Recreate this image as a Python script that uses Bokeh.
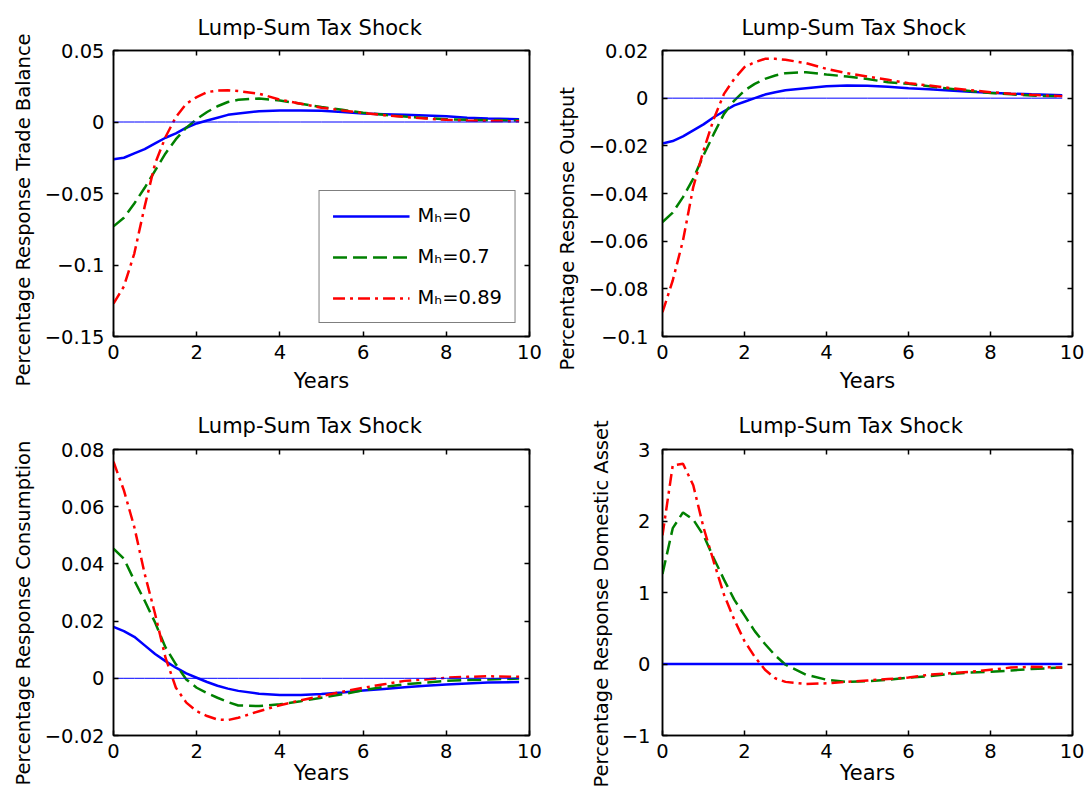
from bokeh.plotting import figure
from bokeh.layouts import gridplot
from bokeh.models import Range1d, FixedTicker, LinearAxis, Legend, LegendItem, Title
from bokeh.embed import file_html
from bokeh.resources import INLINE

# ---------------- data ----------------
years = [0, 0.25, 0.5, 0.75, 1, 1.25, 1.5, 1.75, 2, 2.25, 2.5, 2.75, 3,
         3.5, 4, 4.5, 5, 5.5, 6, 6.5, 7, 7.5, 8, 8.5, 9, 9.75]
zero_ref = [0, 0, 0, 0, 0, 0, 0, 0, 0, 0, 0, 0, 0,
            0, 0, 0, 0, 0, 0, 0, 0, 0, 0, 0, 0, 0]

series_labels = ["M\u2095=0", "M\u2095=0.7", "M\u2095=0.89"]

# Trade balance
tb_m0 = [-0.026, -0.025, -0.022, -0.019, -0.015, -0.011, -0.008, -0.004, -0.001, 0.001, 0.003, 0.005, 0.006,
         0.0075, 0.008, 0.008, 0.0078, 0.007, 0.006, 0.0055, 0.005, 0.0045, 0.004, 0.003, 0.0025, 0.002]
tb_m07 = [-0.073, -0.067, -0.057, -0.046, -0.034, -0.022, -0.012, -0.004, 0.002, 0.007, 0.011, 0.014, 0.0155,
          0.0165, 0.015, 0.0128, 0.0105, 0.0085, 0.0065, 0.005, 0.0038, 0.0028, 0.002, 0.0015, 0.0012, 0.001]
tb_m089 = [-0.127, -0.115, -0.092, -0.059, -0.029, -0.0105, 0.0035, 0.0128, 0.0174, 0.0209, 0.022, 0.0222, 0.0216,
           0.0198, 0.0156, 0.0128, 0.010, 0.0081, 0.0063, 0.0048, 0.0035, 0.0025, 0.0015, 0.0011, 0.0008, 0.0005]

# Output
out_m0 = [-0.019, -0.018, -0.016, -0.0135, -0.011, -0.008, -0.0055, -0.003, -0.0015, 0.0, 0.0015, 0.0025, 0.0033,
          0.0042, 0.005, 0.0053, 0.0052, 0.0048, 0.0042, 0.0037, 0.0032, 0.0027, 0.0023, 0.0019, 0.0016, 0.0012]
out_m07 = [-0.052, -0.048, -0.0415, -0.0338, -0.024, -0.015, -0.0066, -0.001, 0.0032, 0.006, 0.0081, 0.0095, 0.0105,
           0.0109, 0.0099, 0.0091, 0.008, 0.0067, 0.006, 0.005, 0.004, 0.003, 0.0022, 0.0016, 0.0011, 0.0007]
out_m089 = [-0.0898, -0.0765, -0.0597, -0.0373, -0.022, -0.0087, 0.0018, 0.0081, 0.013, 0.0151, 0.0165, 0.0165, 0.0161,
            0.0147, 0.0123, 0.0105, 0.0091, 0.0077, 0.0063, 0.0053, 0.0043, 0.0034, 0.0025, 0.0019, 0.0014, 0.0008]

# Consumption
c_m0 = [0.018, 0.0165, 0.0145, 0.0115, 0.0085, 0.006, 0.0037, 0.0017, 0.0002, -0.0013, -0.0026, -0.0036, -0.0044,
        -0.0054, -0.0058, -0.0058, -0.0055, -0.005, -0.0043, -0.0037, -0.0031, -0.0026, -0.0022, -0.0018, -0.0015, -0.0013]
c_m07 = [0.0453, 0.0418, 0.0342, 0.0271, 0.0195, 0.0108, 0.0049, -0.0004, -0.0033, -0.0052, -0.0068, -0.0083, -0.0095,
         -0.0097, -0.0091, -0.008, -0.0068, -0.0056, -0.0042, -0.003, -0.0021, -0.0015, -0.0009, -0.0006, -0.0004, -0.0001]
c_m089 = [0.0757, 0.0657, 0.0529, 0.0365, 0.0225, 0.0072, -0.0033, -0.0085, -0.0115, -0.0132, -0.0144, -0.0146, -0.0138,
          -0.0115, -0.0094, -0.0077, -0.0062, -0.0047, -0.0033, -0.0021, -0.0009, -0.0004, 0.0002, 0.0005, 0.0007, 0.0005]

# Domestic asset
da_m0 = [0, 0, 0, 0, 0, 0, 0, 0, 0, 0, 0, 0, 0,
         0, 0, 0, 0, 0, 0, 0, 0, 0, 0, 0, 0, 0]
da_m07 = [1.26, 1.9, 2.12, 2.02, 1.8, 1.48, 1.18, 0.9, 0.68, 0.46, 0.28, 0.12, -0.01,
          -0.15, -0.22, -0.25, -0.24, -0.22, -0.19, -0.17, -0.14, -0.12, -0.11, -0.09, -0.07, -0.05]
da_m089 = [1.8, 2.78, 2.8, 2.5, 1.91, 1.43, 0.97, 0.62, 0.32, 0.1, -0.08, -0.2, -0.25,
           -0.28, -0.27, -0.25, -0.23, -0.21, -0.19, -0.15, -0.13, -0.11, -0.08, -0.05, -0.04, -0.05]

x_ticks = [0, 2, 4, 6, 8, 10]
tb_ticks = [-0.15, -0.1, -0.05, 0, 0.05]
tb_tick_labels = ["\u22120.15", "\u22120.1", "\u22120.05", "0", "0.05"]
out_ticks = [-0.1, -0.08, -0.06, -0.04, -0.02, 0, 0.02]
out_tick_labels = ["\u22120.1", "\u22120.08", "\u22120.06", "\u22120.04", "\u22120.02", "0", "0.02"]
c_ticks = [-0.02, 0, 0.02, 0.04, 0.06, 0.08]
c_tick_labels = ["\u22120.02", "0", "0.02", "0.04", "0.06", "0.08"]
da_ticks = [-1, 0, 1, 2, 3]
da_tick_labels = ["\u22121", "0", "1", "2", "3"]

FONT = "DejaVu Sans"
COLORS = ["#0000FF", "#008000", "#FF0000"]
DASHES = ["solid", "14 6", "12 5 3 5"]


def make_panel(width, height, bl, br, bt, bb, ylo, yhi, yticks, ylabels, ylab,
               tick_sd, lab_sd, lab_off, xlab_sd, title_sd, title_off, series):
    p = figure(width=width, height=height, x_range=Range1d(0, 10), y_range=Range1d(ylo, yhi),
               output_backend="svg", toolbar_location=None,
               min_border_left=bl, min_border_right=br, min_border_top=bt, min_border_bottom=bb,
               title="Lump-Sum Tax Shock")
    p.background_fill_color = "white"
    p.border_fill_color = "white"
    p.outline_line_color = "black"
    p.outline_line_width = 1.5
    p.xgrid.visible = False
    p.ygrid.visible = False

    p.title.align = "left"
    p.title.offset = title_off
    p.title.text_font = FONT
    p.title.text_font_size = "21px"
    p.title.text_font_style = "normal"
    p.title.text_color = "black"
    p.title.standoff = title_sd

    for ax in (p.xaxis[0], p.yaxis[0]):
        ax.major_tick_in = 5
        ax.major_tick_out = 0
        ax.minor_tick_line_color = None
        ax.axis_line_color = "black"
        ax.axis_line_width = 1.5
        ax.major_tick_line_width = 1.5
        ax.major_label_text_font = FONT
        ax.major_label_text_font_size = "19.5px"
        ax.major_label_text_color = "black"
        ax.axis_label_text_font = FONT
        ax.axis_label_text_font_style = "normal"
        ax.axis_label_text_color = "black"

    p.xaxis[0].ticker = FixedTicker(ticks=x_ticks)
    p.xaxis[0].axis_label = "Years"
    p.xaxis[0].axis_label_text_font_size = "21px"
    p.xaxis[0].major_label_standoff = 8
    p.xaxis[0].axis_label_standoff = xlab_sd

    p.yaxis[0].ticker = FixedTicker(ticks=yticks)
    p.yaxis[0].major_label_overrides = dict(zip(yticks, ylabels))
    p.yaxis[0].major_label_standoff = tick_sd

    # y label as a side title so it can be shifted along the axis like the original
    ytitle = Title(text=ylab, align="left", offset=lab_off, standoff=lab_sd,
                   text_font=FONT, text_font_size="19.5px", text_font_style="normal",
                   text_color="black")
    p.add_layout(ytitle, "left")

    for loc, ticks in (("right", yticks), ("above", x_ticks)):
        ax = LinearAxis(ticker=FixedTicker(ticks=ticks),
                        major_label_overrides={t: "" for t in ticks},
                        major_label_text_font_size="0px", major_label_standoff=0,
                        major_tick_in=5, major_tick_out=0, minor_tick_line_color=None,
                        axis_line_color="black", axis_line_width=1.5, major_tick_line_width=1.5)
        p.add_layout(ax, loc)

    renderers = []
    for ys, c, d in zip(series, COLORS, DASHES):
        r = p.line(years, ys, line_color=c, line_width=2.5, line_dash=d)
        renderers.append(r)
    p.line(years, zero_ref, line_color="#0000FF", line_width=1)
    return p, renderers


p1, r1 = make_panel(545, 398, 113, 16, 50, 62, -0.15, 0.05, tb_ticks, tb_tick_labels,
                    "Percentage Response Trade Balance", 9, 13, -50, 7, 22, 84,
                    [tb_m0, tb_m07, tb_m089])
p2, _ = make_panel(539, 398, 116, 11, 50, 62, -0.1, 0.02, out_ticks, out_tick_labels,
                   "Percentage Response Output", 14, 13, -34, 7, 22, 79,
                   [out_m0, out_m07, out_m089])
p3, _ = make_panel(545, 390, 113, 16, 51, 53, -0.02, 0.08, c_ticks, c_tick_labels,
                   "Percentage Response Consumption", 9, 13, -50, 0, 24, 84,
                   [c_m0, c_m07, c_m089])
p4, _ = make_panel(539, 390, 117, 12, 51, 53, -1, 3, da_ticks, da_tick_labels,
                   "Percentage Response Domestic Asset", 12, 11, -52, 0, 24, 76,
                   [da_m0, da_m07, da_m089])

legend = Legend(items=[LegendItem(label=lab, renderers=[r]) for lab, r in zip(series_labels, r1)],
                location="bottom_right", margin=13, padding=13, spacing=18,
                glyph_width=77, glyph_height=20, label_standoff=8,
                label_text_font=FONT, label_text_font_size="19.5px", label_text_color="black",
                border_line_color="black", border_line_width=1.5,
                background_fill_color="white", background_fill_alpha=1.0)
p1.add_layout(legend)

grid = gridplot([[p1, p2], [p3, p4]], toolbar_location=None)

open("out.html", "w").write(file_html(grid, INLINE))
